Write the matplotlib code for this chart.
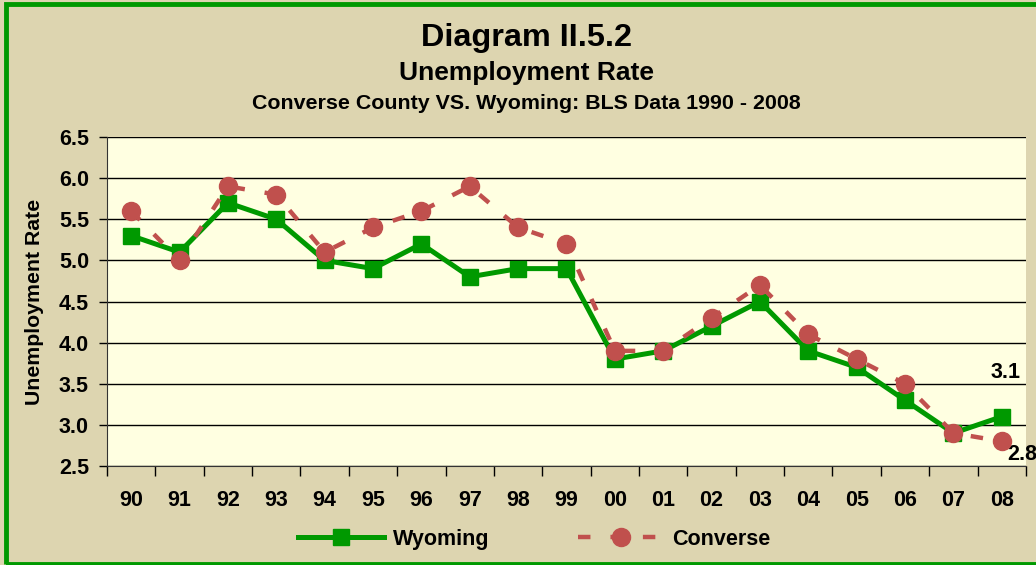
import matplotlib.pyplot as plt
from matplotlib.patches import Rectangle

years = ['90', '91', '92', '93', '94', '95', '96', '97', '98', '99',
         '00', '01', '02', '03', '04', '05', '06', '07', '08']
wyoming = [5.3, 5.1, 5.7, 5.5, 5.0, 4.9, 5.2, 4.8, 4.9, 4.9,
           3.8, 3.9, 4.2, 4.5, 3.9, 3.7, 3.3, 2.9, 3.1]
converse = [5.6, 5.0, 5.9, 5.8, 5.1, 5.4, 5.6, 5.9, 5.4, 5.2,
            3.9, 3.9, 4.3, 4.7, 4.1, 3.8, 3.5, 2.9, 2.8]
yticks = [2.5, 3.0, 3.5, 4.0, 4.5, 5.0, 5.5, 6.0, 6.5]

plt.rcParams['font.family'] = ['Liberation Sans', 'DejaVu Sans']
plt.rcParams['font.weight'] = 'bold'

bg = '#DDD5B0'
green = '#009900'
red = '#C0504D'

fig = plt.figure(figsize=(10.36, 5.65), dpi=100, facecolor=bg)
ax = fig.add_axes([0.1033, 0.1752, 0.8870, 0.5823])
ax.set_facecolor('#FFFFE1')

x = list(range(len(years)))
ax.plot(x, wyoming, color=green, lw=3.6, marker='s', ms=11.5,
        mec=green, mfc=green, label='Wyoming', zorder=3)
ax.plot(x, converse, color=red, lw=3.2, ls=(0, (2.8, 4.5)), marker='o', ms=13,
        mec=red, mfc=red, label='Converse', zorder=4)

ax.set_xlim(-0.5, len(years) - 0.5)
ax.set_ylim(2.5, 6.5)
ax.set_yticks(yticks)
ax.set_yticklabels(['%.1f' % v for v in yticks], fontsize=15.5, fontweight='bold')
ax.set_xticks(x)
ax.set_xticklabels(years, fontsize=15.5, fontweight='bold')
ax.tick_params(axis='x', which='major', length=0, pad=17)
ax.set_xticks([i - 0.5 for i in range(len(years) + 1)], minor=True)
ax.tick_params(axis='x', which='minor', length=7, width=1, direction='out')
ax.tick_params(axis='y', length=6, width=1, direction='out', pad=7)
ax.grid(axis='y', color='black', lw=1)
ax.set_axisbelow(True)
for s in ['top', 'right']:
    ax.spines[s].set_visible(False)
ax.spines['left'].set_color('#333333')
ax.spines['bottom'].set_color('#333333')

ax.set_ylabel('Unemployment Rate', fontsize=15.3, fontweight='bold', labelpad=11)

ax.annotate('3.1', (x[-1], wyoming[-1]), xytext=(3, 24), textcoords='offset points',
            ha='center', va='bottom', fontsize=15.5, fontweight='bold')
ax.annotate('2.8', (x[-1], converse[-1]), xytext=(4, -2), textcoords='offset points',
            ha='left', va='top', fontsize=15.5, fontweight='bold')

fig.text(0.5085, 0.933, 'Diagram II.5.2', ha='center', va='center', fontsize=23.3, fontweight='bold')
fig.text(0.5085, 0.871, 'Unemployment Rate', ha='center', va='center', fontsize=19, fontweight='bold')
fig.text(0.5085, 0.816, 'Converse County VS. Wyoming: BLS Data 1990 - 2008',
         ha='center', va='center', fontsize=15.4, fontweight='bold')

fig.legend(loc='center', bbox_to_anchor=(0.516, 0.046), ncol=2, frameon=False,
           handlelength=4.0, columnspacing=4.1, handletextpad=0.4,
           prop={'weight': 'bold', 'size': 15.5})

fig.patches.append(Rectangle((6 / 1036, 1.5 / 565), 1.0, 1 - 5 / 565, transform=fig.transFigure,
                             fill=False, edgecolor=green, lw=3.5))

fig.savefig('out.png', dpi=100, facecolor=bg)
